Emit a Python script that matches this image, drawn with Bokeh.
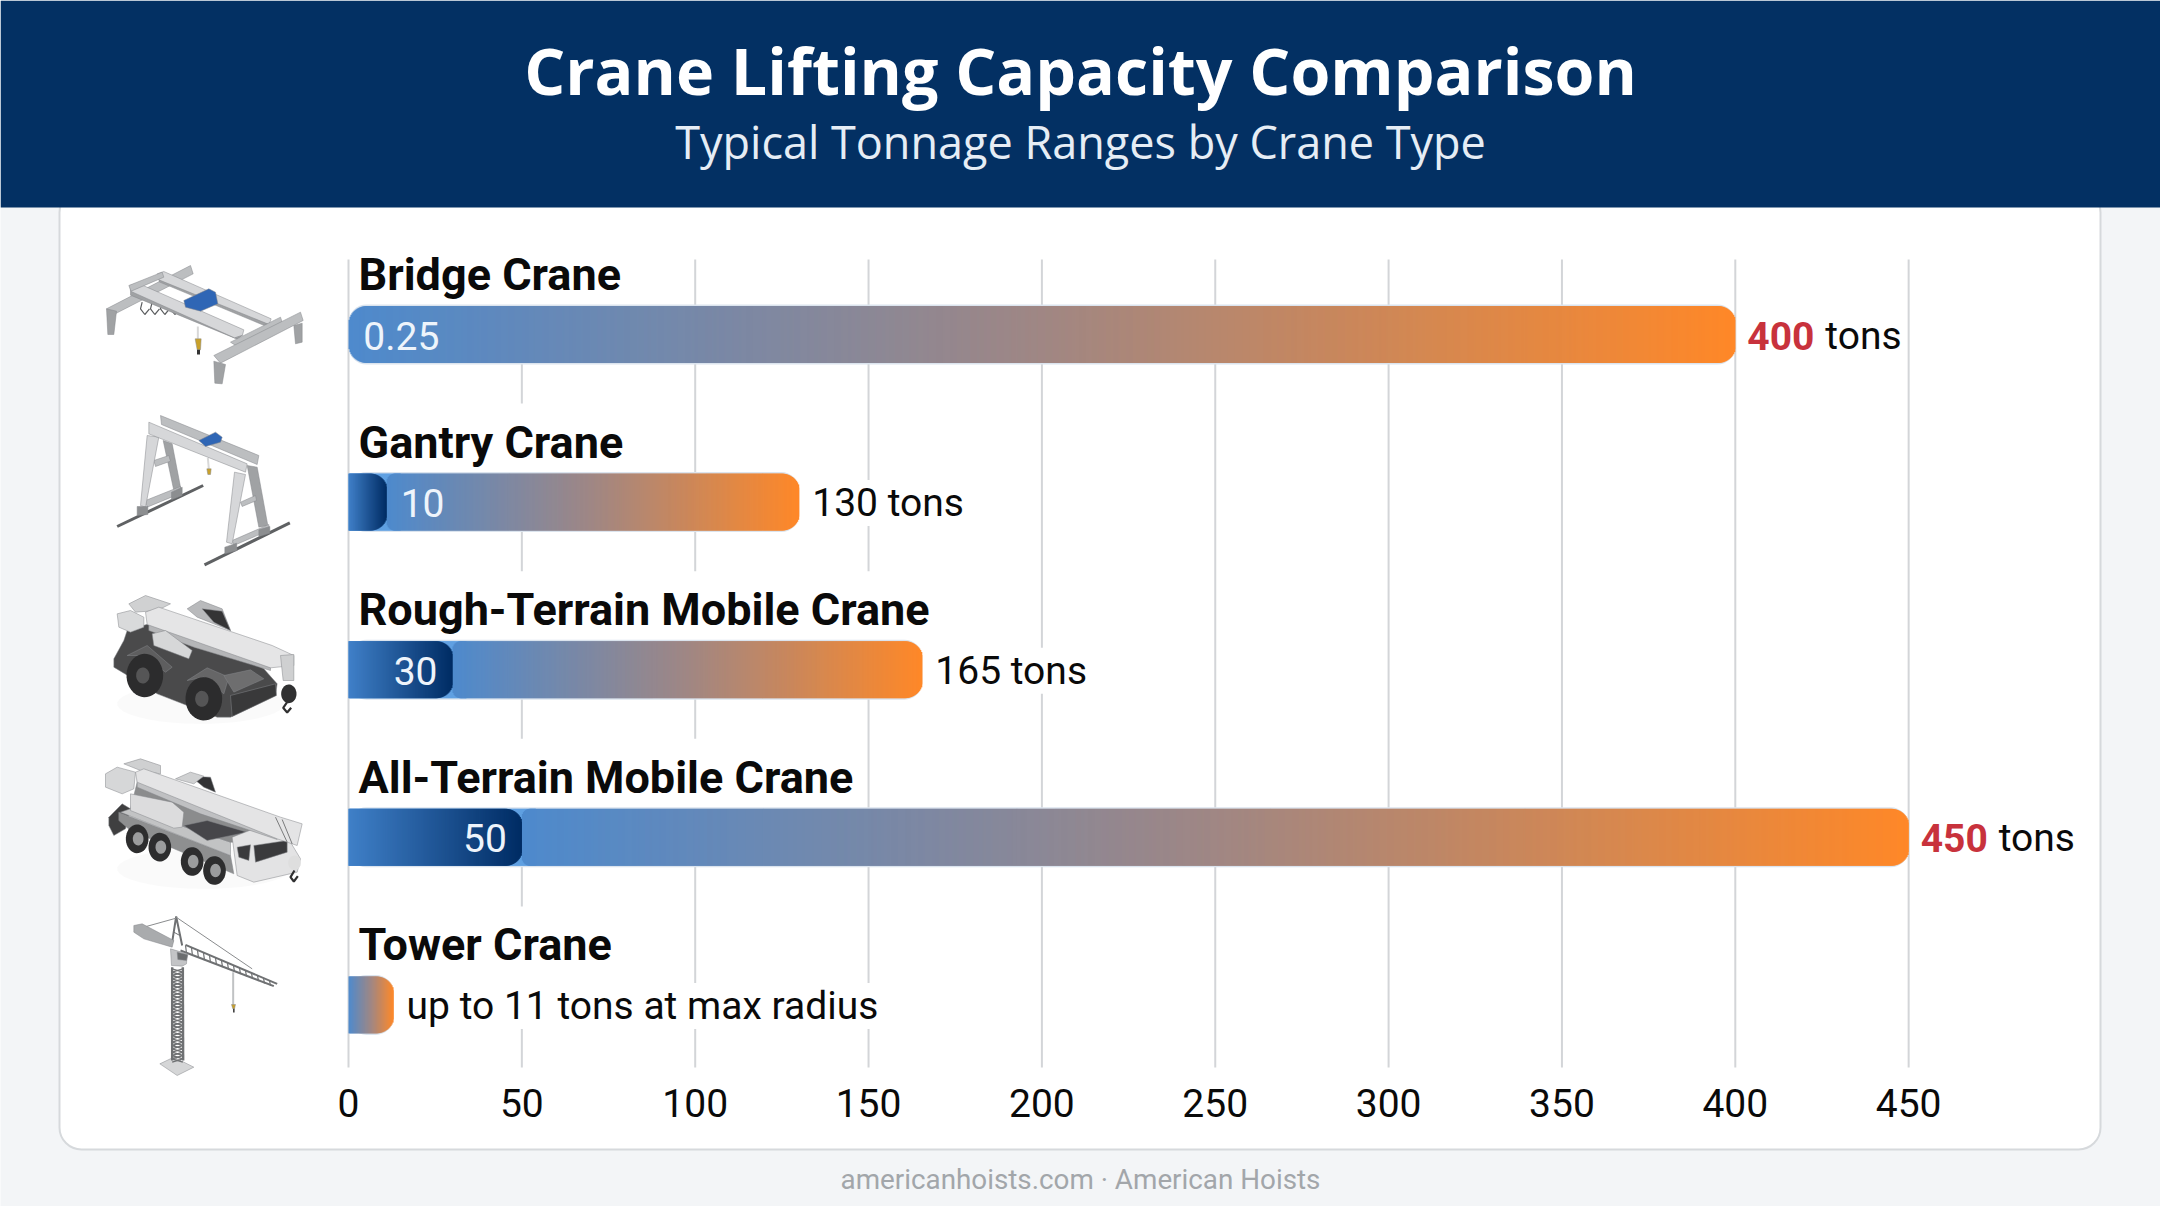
import math
import numpy as np
from bokeh.embed import file_html
from bokeh.models import FixedTicker, LinearAxis, Range1d
from bokeh.plotting import figure
from bokeh.resources import INLINE

# ---------- data ----------
crane_types = ["Bridge Crane", "Gantry Crane", "Rough-Terrain Mobile Crane",
               "All-Terrain Mobile Crane", "Tower Crane"]
range_low = [0.25, 11, 30, 50, 0]
range_high = [400, 130, 165.5, 450, 13]
low_labels = ["0.25", "10", "30", "50", ""]
high_labels = ["400", "130 tons", "165 tons", "450", "up to 11 tons at max radius"]
high_emphasis = [True, False, False, True, False]
tick_values = [0, 50, 100, 150, 200, 250, 300, 350, 400, 450]

TITLE = "Crane Lifting Capacity Comparison"
SUBTITLE = "Typical Tonnage Ranges by Crane Type"
FOOTER = "americanhoists.com · American Hoists"

# ---------- layout (screen pixels) ----------
W, H = 2160, 1206
X0, PX_PER_TON = 348.0, 3.467
ROW0, ROW_STEP = 334.0, 167.6
BAR_H = 57.0
INK = "#0a0a0a"


def row_units(px):
    return px / ROW_STEP


p = figure(width=W, height=H, output_backend="svg", toolbar_location=None,
           x_axis_type=None, y_axis_type=None, min_border=0,
           x_range=Range1d(-X0 / PX_PER_TON, (W - X0) / PX_PER_TON),
           y_range=Range1d((H - ROW0) / ROW_STEP, -ROW0 / ROW_STEP),
           background_fill_color="#f3f5f7", border_fill_color="#f3f5f7",
           styles={"position": "absolute", "left": "0px", "top": "0px"})
p.outline_line_color = None
p.grid.visible = False
p.extra_x_ranges = {"px": Range1d(0, W)}
p.extra_y_ranges = {"px": Range1d(H, 0)}
PX = dict(x_range_name="px", y_range_name="px")

# ---------- page furniture ----------
p.quad(left=59, right=2100, top=190, bottom=1149, fill_color="white",
       line_color="#d6d9dc", line_width=2, border_radius=22, **PX)
p.quad(left=0, right=W, top=0, bottom=207, fill_color="#033063",
       line_color=None, **PX)
p.text(x=[1080], y=[69], text=[TITLE], text_font={"value": "Open Sans"},
       text_font_style="bold", text_font_size="64.5px", text_color="white",
       text_align="center", text_baseline="middle", **PX)
p.text(x=[1080], y=[141], text=[SUBTITLE], text_font={"value": "Open Sans"},
       text_font_size="45px", text_color="#e6edf5",
       text_align="center", text_baseline="middle", **PX)
p.text(x=[1080], y=[1179], text=[FOOTER], text_font={"value": "Roboto"},
       text_font_size="27.8px", text_color="#a2a6aa",
       text_align="center", text_baseline="middle", **PX)

# ---------- grid ----------
p.segment(x0=tick_values, x1=tick_values,
          y0=[row_units(259 - ROW0)] * len(tick_values),
          y1=[row_units(1067 - ROW0)] * len(tick_values),
          line_color="#d3d5d8", line_width=2)

# ---------- value labels with their white boxes (they break the grid) ----------
rows = list(range(len(crane_types)))
p.text(x=[0] * 5, y=rows, text=crane_types, x_offset=3,
       y_offset=-60, text_font={"value": "Roboto"},
       text_font_style="bold", text_font_size="45px", text_color=INK,
       text_baseline="middle", background_fill_color="white", padding=(7, 12))

plain = [i for i in rows if not high_emphasis[i]]
p.text(x=[range_high[i] for i in plain], y=plain,
       text=[high_labels[i] for i in plain], x_offset=6, y_offset=1,
       text_font={"value": "Roboto"}, text_font_size="39px", text_color=INK,
       text_baseline="middle", background_fill_color="white", padding=(7, 0))
strong = [i for i in rows if high_emphasis[i]]
p.text(x=[range_high[i] for i in strong], y=strong,
       text=[high_labels[i] for i in strong], x_offset=12, y_offset=1,
       text_font={"value": "Roboto"}, text_font_style="bold", text_font_size="39px",
       text_color="#c8323c", text_baseline="middle")
p.text(x=[range_high[i] for i in strong], y=strong,
       text=["tons"] * len(strong), x_offset=90, y_offset=1,
       text_font={"value": "Roboto"}, text_font_size="39px", text_color=INK,
       text_baseline="middle")


# ---------- gradient bars, built from thin strips ----------
def mix(stops, t):
    t = min(max(t, 0.0), 1.0) * (len(stops) - 1)
    k = min(int(t), len(stops) - 2)
    f = t - k
    return "#%02x%02x%02x" % tuple(round(a + (b - a) * f)
                                   for a, b in zip(stops[k], stops[k + 1]))


def inset(d, r):
    """How far a rounded corner of radius r cuts in at distance d from the end."""
    if r <= 0 or d >= r:
        return 0.0
    return r - math.sqrt(max(r * r - (r - d) ** 2, 0.0))


def strips(row, left, right, stops, r_left=0.0, r_right=0.0):
    px_left, px_right = left * PX_PER_TON, right * PX_PER_TON
    n = max(int(px_right - px_left), 1)
    edges = np.linspace(px_left, px_right, n + 1)
    ls, rs, ts, bs, cs = [], [], [], [], []
    half = BAR_H / 2
    for a, b in zip(edges[:-1], edges[1:]):
        mid = (a + b) / 2
        cut = max(inset(mid - px_left, r_left), inset(px_right - mid, r_right))
        ls.append(a / PX_PER_TON)
        rs.append(min(b + 1.0, px_right) / PX_PER_TON)
        ts.append(row - row_units(half - cut))
        bs.append(row + row_units(half - cut))
        cs.append(mix(stops, (mid - px_left) / max(px_right - px_left, 1e-6)))
    p.quad(left=ls, right=rs, top=ts, bottom=bs, fill_color=cs, line_color=None)


MAIN = [(78, 138, 205), (160, 135, 132), (255, 136, 40)]
DEEP = [(64, 128, 200), (0, 44, 100)]
NOTCH = [(96, 160, 226), (96, 160, 226)]
# pale halo the bars have around their top and bottom edges
p.hbar(y=rows, left=[0] * 5, right=range_high, height=row_units(BAR_H + 3),
       fill_color="#dbe4ee", line_color=None, border_radius=18)
for i in rows:
    lo, hi = range_low[i], range_high[i]
    if lo >= 5:
        strips(i, 0, lo + 4, NOTCH)
        strips(i, lo, hi, MAIN, r_left=8, r_right=18)
        strips(i, 0, lo, DEEP, r_right=17)
    else:
        strips(i, 0, hi, MAIN, r_left=18 if lo > 0 else 0, r_right=18)

# labels of the low end of each range
for i in rows:
    if not low_labels[i]:
        continue
    inside = range_low[i] >= 20
    p.text(x=[range_low[i]], y=[i], text=[low_labels[i]],
           x_offset=-15 if inside else 14, y_offset=1,
           text_align="right" if inside else "left",
           text_font={"value": "Roboto"}, text_font_size="39px",
           text_color="#eef4fb", text_baseline="middle")

# ---------- axis ----------
axis = LinearAxis(ticker=FixedTicker(ticks=tick_values), fixed_location=row_units(1067 - ROW0))
axis.axis_line_color = None
axis.major_tick_line_color = None
axis.minor_tick_line_color = None
axis.major_label_text_font = "Roboto"
axis.major_label_text_font_size = "39px"
axis.major_label_text_color = INK
axis.major_label_standoff = 15
p.add_layout(axis, "below")


# ---------- crane illustrations (not data; simplified drawings) ----------
def shape(x0, y0, color, pts):
    xs = [x0 + a / 3 for a, _ in pts]
    ys = [y0 + b / 3 for _, b in pts]
    p.patch(xs, ys, fill_color=color, line_color="#85878a", line_width=0.5, **PX)


def stroke(x0, y0, color, width, pts):
    xs = [x0 + a / 3 for a, _ in pts]
    ys = [y0 + b / 3 for _, b in pts]
    p.line(xs, ys, line_color=color, line_width=width, **PX)


def disc(x0, y0, cx, cy, rx, ry, color):
    t = np.linspace(0, 2 * np.pi, 40)
    xs = x0 + (cx + rx * np.cos(t)) / 3
    ys = y0 + (cy + ry * np.sin(t)) / 3
    p.patch(xs, ys, fill_color=color, line_color=None, **PX)


def shadow(x0, y0, cx, cy, rx, ry):
    t = np.linspace(0, 2 * np.pi, 40)
    p.patch(x0 + (cx + rx * np.cos(t)) / 3, y0 + (cy + ry * np.sin(t)) / 3,
            fill_color="#888888", fill_alpha=0.04, line_color=None, **PX)


LIGHT, MID, DARK = "#d6d7d9", "#bcbec0", "#a0a2a4"
GOLD, BLUE_T = "#c9a12a", "#2f66b5"

# bridge crane
b = (80, 240)
shape(*b, MID, [(78, 205), (330, 75), (338, 100), (100, 222)])
shape(*b, DARK, [(78, 205), (108, 212), (100, 282), (82, 282)])
shape(*b, DARK, [(640, 255), (665, 248), (665, 305), (645, 310)])
for cx in (185, 215, 245, 275):
    stroke(*b, "#5c5e60", 1.2, [(cx, 185), (cx - 5, 205), (cx + 8, 222), (cx + 22, 205)])
shape(*b, DARK, [(235, 112), (566, 250), (568, 262), (236, 124)])
shape(*b, LIGHT, [(230, 100), (250, 93), (572, 235), (566, 252), (235, 118)])
shape(*b, DARK, [(150, 150), (486, 284), (470, 296), (150, 164)])
shape(*b, LIGHT, [(148, 135), (172, 128), (490, 268), (486, 284), (462, 292), (150, 152)])
shape(*b, MID, [(145, 135), (245, 95), (250, 110), (152, 152)])
shape(*b, MID, [(450, 305), (600, 230), (605, 245), (470, 318)])
stroke(*b, "#d8d8d8", 2, [(352, 258), (352, 295)])
shape(*b, GOLD, [(344, 295), (362, 295), (360, 328), (350, 328)])
stroke(*b, "#333333", 3, [(354, 328), (354, 342)])
shape(*b, BLUE_T, [(310, 180), (385, 145), (405, 155), (412, 190), (360, 212), (315, 200)])
shape(*b, MID, [(400, 345), (660, 215), (668, 240), (420, 368)])
shape(*b, DARK, [(400, 362), (435, 372), (425, 430), (403, 428)])

# gantry crane
g = (90, 400)
stroke(*g, "#5f6163", 3, [(80, 378), (338, 255)])
stroke(*g, "#5f6163", 3, [(342, 493), (598, 367)])
shape(*g, MID, [(210, 45), (505, 165), (500, 192), (213, 72)])
shape(*g, DARK, [(218, 120), (245, 130), (272, 270), (250, 270)])
shape(*g, MID, [(190, 180), (235, 165), (240, 182), (195, 198)])
shape(*g, MID, [(165, 300), (270, 258), (272, 278), (170, 320)])
shape(*g, LIGHT, [(170, 105), (205, 110), (165, 320), (150, 315)])
shape(*g, "#8c8e90", [(140, 318), (172, 318), (172, 342), (140, 345)])
shape(*g, "#8c8e90", [(243, 275), (275, 260), (275, 285), (243, 298)])
shape(*g, DARK, [(470, 195), (500, 200), (532, 375), (505, 380)])
shape(*g, MID, [(450, 305), (495, 285), (498, 300), (455, 318)])
shape(*g, MID, [(425, 420), (535, 372), (535, 390), (430, 435)])
shape(*g, LIGHT, [(432, 215), (465, 222), (425, 430), (408, 425)])
shape(*g, "#8c8e90", [(403, 440), (438, 428), (440, 450), (403, 460)])
shape(*g, "#8c8e90", [(505, 388), (538, 378), (538, 398), (505, 408)])
stroke(*g, "#d8d8d8", 2, [(352, 172), (355, 205)])
shape(*g, GOLD, [(349, 205), (362, 205), (360, 222), (352, 222)])
shape(*g, LIGHT, [(175, 65), (470, 190), (465, 215), (175, 100)])
shape(*g, BLUE_T, [(325, 120), (375, 95), (395, 110), (390, 125), (345, 138)])

# rough-terrain mobile crane
r = (90, 580)
shadow(*r, 330, 370, 250, 60)
shape(*r, "#4a4a4b", [(70, 235), (100, 180), (110, 150), (175, 130), (400, 205), (520, 265), (560, 310),
                      (555, 345), (420, 410), (380, 410), (200, 340), (120, 290), (70, 260)])
shape(*r, "#5e5e5f", [(110, 225), (170, 195), (245, 260), (225, 275), (160, 225)])
disc(*r, 163, 285, 55, 65, "#2c2c2d")
disc(*r, 157, 285, 20, 24, "#555556")
shape(*r, "#666667", [(290, 300), (350, 262), (415, 290), (400, 340), (340, 290)])
shape(*r, "#6e6e6f", [(400, 285), (480, 268), (520, 295), (430, 335)])
disc(*r, 340, 355, 55, 65, "#2c2c2d")
disc(*r, 334, 355, 20, 24, "#555556")
shape(*r, "#39393a", [(420, 345), (555, 310), (558, 345), (425, 408)])
shape(*r, "#b9babc", [(290, 85), (330, 60), (395, 85), (420, 150), (370, 130), (320, 110)])
shape(*r, "#343435", [(335, 85), (395, 92), (420, 150), (370, 125)])
shape(*r, "#d0d1d2", [(115, 70), (165, 45), (240, 70), (200, 90), (135, 95)])
shape(*r, "#d9dadb", [(80, 100), (120, 90), (160, 110), (160, 140), (120, 155), (85, 140)])
shape(*r, "#b5b6b8", [(175, 130), (540, 255), (540, 270), (310, 200), (175, 150)])
shape(*r, "#e5e5e6", [(165, 95), (205, 80), (545, 195), (610, 225), (610, 255), (540, 262), (170, 132)])
shape(*r, "#d6d7d8", [(185, 160), (225, 150), (305, 210), (295, 235), (190, 195)])
shape(*r, "#cfd0d1", [(570, 225), (610, 222), (610, 300), (578, 300)])
disc(*r, 595, 340, 23, 28, "#303031")
stroke(*r, "#303031", 2.2, [(590, 365), (578, 382), (590, 396), (602, 382)])

# all-terrain mobile crane
a = (90, 745)
shadow(*a, 340, 370, 260, 60)
shape(*a, "#3f3f40", [(55, 215), (95, 175), (120, 190), (105, 250), (70, 270), (55, 240)])
shape(*a, "#8e8f90", [(85, 200), (420, 330), (430, 385), (120, 255), (85, 225)])
for cx, cy in ((140, 280), (208, 305), (305, 348), (372, 375)):
    disc(*a, cx, cy, 34, 43, "#2d2d2e")
    disc(*a, cx + 3, cy, 16, 20, "#9b9c9d")
shape(*a, "#c2c3c4", [(90, 200), (120, 190), (420, 290), (420, 330)])
shape(*a, "#8b8c8d", [(120, 190), (140, 110), (540, 270), (430, 290), (420, 290)])
shape(*a, "#46464a", [(280, 240), (350, 225), (470, 260), (350, 285)])
shape(*a, "#e3e3e4", [(425, 275), (490, 250), (600, 290), (630, 340), (620, 380), (490, 410), (440, 390)])
shape(*a, "#3a3a3c", [(490, 300), (590, 285), (590, 320), (495, 350)])
shape(*a, "#3a3a3c", [(440, 305), (480, 298), (475, 345), (445, 335)])
shape(*a, "#dcdcdd", [(120, 145), (245, 170), (280, 200), (275, 245), (250, 248), (120, 195)])
shape(*a, "#333335", [(300, 92), (360, 95), (375, 140), (340, 125)])
shape(*a, "#d0d1d2", [(255, 100), (300, 80), (340, 92), (310, 115)])
shape(*a, "#cfd0d1", [(100, 55), (150, 40), (210, 60), (210, 85), (150, 75)])
shape(*a, "#d6d7d8", [(45, 85), (80, 65), (135, 80), (130, 130), (95, 145), (45, 125)])
shape(*a, "#bfc0c2", [(140, 100), (540, 260), (560, 282), (330, 205), (140, 125)])
shape(*a, "#e4e4e5", [(135, 80), (160, 70), (570, 215), (635, 235), (620, 300), (560, 280), (140, 110)])
stroke(*a, "#7a7b7c", 1, [(555, 215), (590, 290)])
stroke(*a, "#7a7b7c", 1, [(575, 222), (605, 295)])
disc(*a, 612, 352, 19, 22, "#dedede")
stroke(*a, "#303031", 2.2, [(612, 375), (600, 395), (610, 408), (622, 392)])

# tower crane
t = (110, 905)
shape(*t, "#d5d6d7", [(148, 475), (190, 455), (250, 485), (200, 510)])
LAT = "#6f7173"
stroke(*t, LAT, 2.4, [(185, 185), (185, 465)])
stroke(*t, LAT, 2.4, [(217, 185), (218, 465)])
for k in range(14):
    ya = 190 + k * 20
    stroke(*t, LAT, 1.4, [(185, ya), (217, ya + 10), (185, ya + 20)])
    stroke(*t, LAT, 1.4, [(217, ya), (185, ya + 10), (217, ya + 20)])
stroke(*t, LAT, 2, [(185, 110), (197, 33), (215, 120)])
stroke(*t, LAT, 1, [(190, 80), (208, 90)])
stroke(*t, "#8a8c8e", 1, [(197, 35), (425, 190)])
stroke(*t, "#8a8c8e", 1, [(197, 38), (100, 65)])
shape(*t, "#a9abad", [(70, 60), (95, 55), (190, 105), (185, 125), (100, 100), (70, 80)])
stroke(*t, LAT, 2, [(225, 118), (500, 235)])
stroke(*t, LAT, 2, [(210, 135), (490, 242)])
for k in range(15):
    xa = 225 + k * 18
    stroke(*t, LAT, 1.2, [(xa, 120 + k * 7.5), (xa + 3, 143 + k * 7)])
shape(*t, "#c3c4c6", [(180, 130), (230, 145), (228, 175), (215, 182), (183, 180)])
shape(*t, "#6b6d6f", [(200, 140), (232, 148), (228, 165), (202, 162)])
stroke(*t, "#c0c2c4", 2, [(368, 200), (368, 298)])
shape(*t, GOLD, [(363, 297), (375, 297), (372, 310), (367, 310)])
stroke(*t, "#333333", 1.5, [(370, 310), (370, 321)])

open("out.html", "w").write(file_html(p, INLINE))
